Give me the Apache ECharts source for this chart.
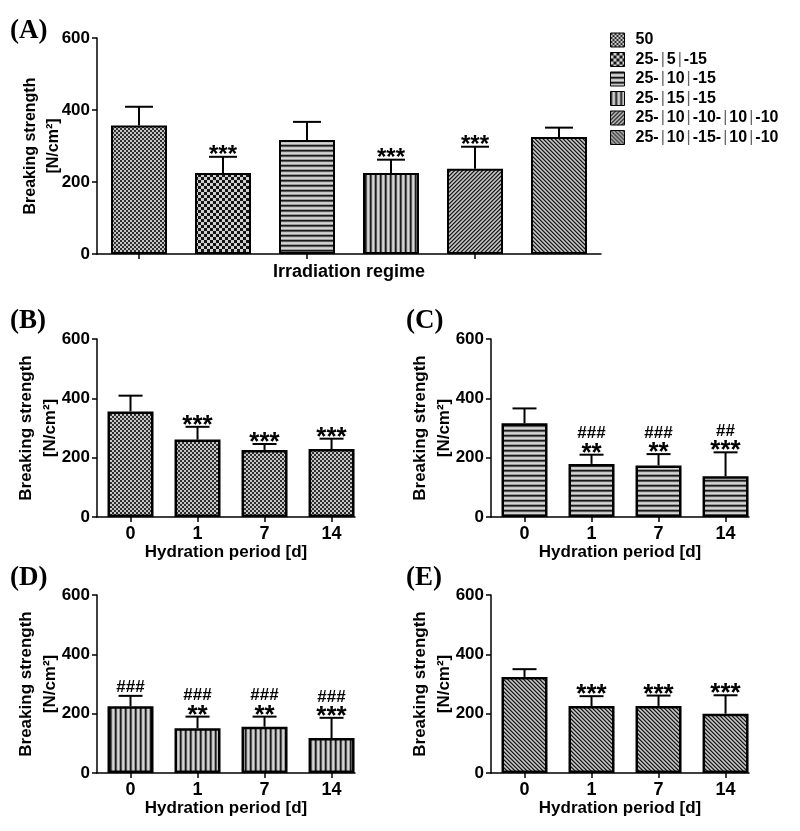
<!DOCTYPE html>
<html>
<head>
<meta charset="utf-8">
<script src="https://cdn.jsdelivr.net/npm/echarts@6/dist/echarts.min.js"></script>
<style>
html,body{margin:0;padding:0;background:#fff;}
#chart{width:800px;height:831px;}
</style>
</head>
<body>
<div id="chart"></div>
<script>
// ---------- DATA ----------
const regimes = ['50', '25-|5|-15', '25-|10|-15', '25-|15|-15', '25-|10|-10-|10|-10', '25-|10|-15-|10|-10'];
const meanA   = [357, 225, 317, 225, 237, 325];
const errTopA = [409, 270, 367, 262, 298, 351];
const starsA  = ['', '***', '', '***', '***', ''];
const hashA   = ['', '', '', '', '', ''];

const days = ['0', '1', '7', '14'];

const meanB   = [356, 261, 226, 229];
const errTopB = [409, 304, 246, 264];
const starsB  = ['', '***', '***', '***'];
const hashB   = ['', '', '', ''];

const meanC   = [316, 179, 174, 137];
const errTopC = [366, 210, 212, 218];
const starsC  = ['', '**', '**', '***'];
const hashC   = ['', '###', '###', '##'];

const meanD   = [225, 151, 156, 118];
const errTopD = [260, 190, 190, 186];
const starsD  = ['', '**', '**', '***'];
const hashD   = ['###', '###', '###', '###'];

const meanE   = [324, 226, 226, 200];
const errTopE = [350, 259, 261, 262];
const starsE  = ['', '***', '***', '***'];
const hashE   = ['', '', '', ''];

// ---------- PATTERNS ----------
function tile(w, h, fn) {
  const c = document.createElement('canvas');
  c.width = w; c.height = h;
  const ctx = c.getContext('2d');
  for (let y = 0; y < h; y++) for (let x = 0; x < w; x++) {
    ctx.fillStyle = fn(x, y);
    ctx.fillRect(x, y, 1, 1);
  }
  return { image: c, repeat: 'repeat' };
}
const lineCols = ['#1a1a1a', '#5a5a5a', '#c4c4c4', '#d6d6d6', '#9a9a9a'];
const diagCols = ['#1a1a1a', '#6a6a6a', '#c8c8c8', '#9c9c9c'];
const patterns = [
  tile(4, 4, (x, y) => ((Math.floor(x / 2) + Math.floor(y / 2)) % 2 === 0) ? '#2e2e2e' : '#c6c6c6'),
  tile(6, 6, (x, y) => ((Math.floor(x / 3) + Math.floor(y / 3)) % 2 === 0) ? '#141414' : '#cfcfcf'),
  tile(1, 5, (x, y) => lineCols[y]),
  tile(5, 1, (x, y) => lineCols[x]),
  tile(4, 4, (x, y) => diagCols[(x + y) % 4]),
  tile(4, 4, (x, y) => diagCols[((x - y) % 4 + 4) % 4])
];

const SANS = "'Liberation Sans', Arial, sans-serif";
const SERIF = "'Liberation Serif', 'Times New Roman', serif";

// ---------- HELPERS ----------
function errSeries(gi, means, tops, stars, hashes, capHalf, starSize, hashSize) {
  return {
    type: 'custom', xAxisIndex: gi, yAxisIndex: gi, z: 5, silent: true,
    data: means.map((m, i) => [i, m, tops[i]]),
    encode: { x: 0, y: [1, 2] },
    renderItem: function (params, api) {
      const i = api.value(0);
      const pm = api.coord([i, api.value(1)]);
      const pt = api.coord([i, api.value(2)]);
      const st = stars[params.dataIndex];
      const hs = hashes[params.dataIndex];
      const ls = { stroke: '#000', lineWidth: 2 };
      const ch = [
        { type: 'line', shape: { x1: pm[0], y1: pm[1], x2: pt[0], y2: pt[1] }, style: ls },
        { type: 'line', shape: { x1: pt[0] - capHalf, y1: pt[1], x2: pt[0] + capHalf, y2: pt[1] }, style: ls }
      ];
      if (st) ch.push({ type: 'text', style: { text: st, x: pt[0], y: pt[1] - 1, align: 'center', verticalAlign: 'middle', font: 'bold ' + starSize + 'px ' + SANS, fill: '#000' } });
      if (hs) ch.push({ type: 'text', style: { text: hs, x: pt[0], y: pt[1] - (st ? 21 : 9), align: 'center', verticalAlign: 'middle', font: 'bold ' + hashSize + 'px ' + SANS, fill: '#000' } });
      return { type: 'group', children: ch };
    }
  };
}

function yAxisDef(gi, fs, nameFs, lh, gap) {
  return {
    gridIndex: gi, type: 'value', min: 0, max: 600, interval: 200,
    name: 'Breaking strength\n[N/cm²]', nameLocation: 'middle', nameGap: gap, nameRotate: 90,
    nameMoveOverlap: false,
    nameTextStyle: { fontFamily: SANS, fontWeight: 'bold', fontSize: nameFs, lineHeight: lh, color: '#000' },
    axisLine: { show: true, onZero: false, lineStyle: { color: '#000', width: 1.5 } },
    axisTick: { show: true, length: 5, lineStyle: { color: '#000', width: 1.5 } },
    axisLabel: { fontFamily: SANS, fontWeight: 'bold', fontSize: fs, color: '#000', margin: 7 },
    splitLine: { show: false }
  };
}

function xAxisHyd(gi) {
  return {
    gridIndex: gi, type: 'value', min: -0.5, max: 3.35,
    name: 'Hydration period [d]', nameLocation: 'middle', nameGap: 23,
    nameTextStyle: { fontFamily: SANS, fontWeight: 'bold', fontSize: 17, color: '#000' },
    axisLine: { show: true, onZero: false, lineStyle: { color: '#000', width: 1.5 } },
    axisTick: { show: true, length: 5, customValues: [0, 1, 2, 3], lineStyle: { color: '#000', width: 1.5 } },
    axisLabel: { customValues: [0, 1, 2, 3], formatter: v => days[Math.round(v)], fontFamily: SANS, fontWeight: 'bold', fontSize: 18, color: '#000', margin: 8 },
    splitLine: { show: false }
  };
}

function hydBar(gi, means, pat) {
  return {
    type: 'bar', xAxisIndex: gi, yAxisIndex: gi, barWidth: 46, silent: true,
    data: means.map((v, i) => [i, v]),
    itemStyle: { color: pat, borderColor: '#000', borderWidth: 2.5 }
  };
}

// ---------- OPTION ----------
const seriesA = regimes.map((name, j) => ({
  type: 'bar', name: name, xAxisIndex: 0, yAxisIndex: 0, barWidth: 56, barGap: '-100%', silent: true,
  data: meanA.map((v, i) => (i === j ? v : '-')),
  itemStyle: { color: patterns[j], borderColor: '#000', borderWidth: 2 }
}));

const option = {
  animation: false,
  backgroundColor: '#fff',
  grid: [
    { left: 97, top: 38, width: 504, height: 216 },
    { left: 97, top: 339, width: 258, height: 178 },
    { left: 491, top: 339, width: 258, height: 178 },
    { left: 97, top: 595, width: 258, height: 178 },
    { left: 491, top: 595, width: 258, height: 178 }
  ],
  xAxis: [
    {
      gridIndex: 0, type: 'category', data: regimes,
      name: 'Irradiation regime', nameLocation: 'middle', nameGap: 9,
      nameTextStyle: { fontFamily: SANS, fontWeight: 'bold', fontSize: 18, color: '#000' },
      axisLine: { show: true, lineStyle: { color: '#000', width: 1.5 } },
      axisTick: { show: true, alignWithLabel: true, length: 5, lineStyle: { color: '#000', width: 1.5 } },
      axisLabel: { show: false }
    },
    xAxisHyd(1), xAxisHyd(2), xAxisHyd(3), xAxisHyd(4)
  ],
  yAxis: [
    yAxisDef(0, 17, 16, 23, 32),
    yAxisDef(1, 17, 17, 24, 35),
    yAxisDef(2, 17, 17, 24, 35),
    yAxisDef(3, 17, 17, 24, 35),
    yAxisDef(4, 17, 17, 24, 35)
  ],
  legend: {
    data: regimes, orient: 'vertical', left: 605, top: 27,
    itemWidth: 14, itemHeight: 14, itemGap: 3.5, icon: 'rect',
    itemStyle: { borderColor: '#000', borderWidth: 1 },
    selectedMode: false,
    formatter: n => n.replace(/\|/g, '{s||}'),
    textStyle: {
      fontFamily: SANS, fontWeight: 'bold', fontSize: 16, lineHeight: 16, color: '#000', padding: [0, 0, 0, 6],
      rich: { s: { fontFamily: SANS, fontWeight: 'normal', fontSize: 16, lineHeight: 16, color: '#666', padding: [0, 2, 0, 2] } }
    }
  },
  graphic: [
    { type: 'text', left: 10, top: 18, style: { text: '(A)', font: 'bold 27px ' + SERIF, fill: '#000' } },
    { type: 'text', left: 10, top: 308, style: { text: '(B)', font: 'bold 27px ' + SERIF, fill: '#000' } },
    { type: 'text', left: 406, top: 308, style: { text: '(C)', font: 'bold 27px ' + SERIF, fill: '#000' } },
    { type: 'text', left: 10, top: 565, style: { text: '(D)', font: 'bold 27px ' + SERIF, fill: '#000' } },
    { type: 'text', left: 406, top: 565, style: { text: '(E)', font: 'bold 27px ' + SERIF, fill: '#000' } }
  ],
  series: seriesA.concat([
    errSeries(0, meanA, errTopA, starsA, hashA, 14, 24, 17),
    hydBar(1, meanB, patterns[0]),
    errSeries(1, meanB, errTopB, starsB, hashB, 12, 26, 17),
    hydBar(2, meanC, patterns[2]),
    errSeries(2, meanC, errTopC, starsC, hashC, 12, 26, 17),
    hydBar(3, meanD, patterns[3]),
    errSeries(3, meanD, errTopD, starsD, hashD, 12, 26, 17),
    hydBar(4, meanE, patterns[5]),
    errSeries(4, meanE, errTopE, starsE, hashE, 12, 26, 17)
  ])
};

const chart = echarts.init(document.getElementById('chart'), null, { renderer: 'canvas' });
chart.setOption(option);
</script>
</body>
</html>
